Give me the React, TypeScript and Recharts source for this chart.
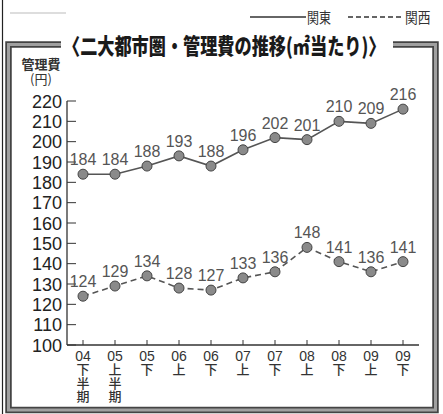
import React from 'react';
import { ComposedChart, Line, XAxis, YAxis, LabelList } from 'recharts';

const categories = ['04下半期', '05上半期', '05下', '06上', '06下', '07上', '07下', '08上', '08下', '09上', '09下'];
const kanto = [184, 184, 188, 193, 188, 196, 202, 201, 210, 209, 216];
const kansai = [124, 129, 134, 128, 127, 133, 136, 148, 141, 136, 141];
const yTicks = [100, 110, 120, 130, 140, 150, 160, 170, 180, 190, 200, 210, 220];

const data = categories.map((c, i) => ({ cat: c, kanto: kanto[i], kansai: kansai[i] }));

const JP = '"Noto Sans CJK JP", "Noto Sans", sans-serif';
const NUM = '"Liberation Sans", Arial, sans-serif';

const XTick = (props: any) => {
  const { x, y, payload } = props;
  const s: string = payload.value;
  const year = s.slice(0, 2);
  const rest = s.slice(2).split('');
  return (
    <g>
      <line x1={x} y1={y - 5} x2={x} y2={y} stroke="#333" strokeWidth={1} />
      <text x={x} y={y + 16} textAnchor="middle" fill="#333">
        <tspan x={x} y={y + 16} fontFamily={NUM} fontSize={14}>{year}</tspan>
        {rest.map((ch, i) => (
          <tspan key={i} x={x} y={y + 29 + i * 13.5} fontFamily={JP} fontSize={13} fontWeight={500}>{ch}</tspan>
        ))}
      </text>
    </g>
  );
};

const YTick = (props: any) => {
  const { x, y, payload } = props;
  return (
    <g>
      <line x1={x} y1={y} x2={x + 9} y2={y} stroke="#333" strokeWidth={1} />
      <text x={x - 5} y={y + 6.5} textAnchor="end" fontFamily={NUM} fontSize={18} fill="#222">{payload.value}</text>
    </g>
  );
};

const PointLabel = (props: any) => {
  const { x, y, value } = props;
  return (
    <text x={x} y={y - 9} textAnchor="middle" fontFamily={NUM} fontSize={16} fill="#555">{value}</text>
  );
};

const Dot = (props: any) => {
  const { cx, cy } = props;
  return <circle cx={cx} cy={cy} r={5} fill="#8a8a8a" stroke="#444" strokeWidth={1} />;
};

export default function App() {
  return (
    <div style={{ position: 'absolute', left: 0, top: 0, width: 443, height: 414, background: '#fff' }}>
      <svg width={443} height={414} style={{ position: 'absolute', left: 0, top: 0 }}>
        <line x1={2.5} y1={0} x2={2.5} y2={414} stroke="#222" strokeWidth={1.2} />
        <line x1={10} y1={13} x2={66} y2={13} stroke="#bbb" strokeWidth={1} />
        <path d="M61 44.5 H8.5 V410 H435.5 V44.5 H393" fill="none" stroke="#444" strokeWidth={6.5} />
        <path d="M61 44.5 H8.5 V410 H435.5 V44.5 H393" fill="none" stroke="#a0a0a0" strokeWidth={3} />
        <g transform="translate(63,54) scale(0.78,1)">
          <text x={0} y={0} fontFamily={JP} fontSize={22} fontWeight={900} fill="#1a1a1a">〈二大都市圏・管理費の推移(㎡当たり)〉</text>
        </g>
        <line x1={250} y1={17} x2={306} y2={17} stroke="#333" strokeWidth={1.3} />
        <g transform="translate(307,22.5) scale(0.8,1)">
          <text x={0} y={0} fontFamily={JP} fontSize={15} fill="#333">関東</text>
        </g>
        <line x1={348} y1={17} x2={404} y2={17} stroke="#333" strokeWidth={1.3} strokeDasharray="5 3" />
        <g transform="translate(405,22.5) scale(0.85,1)">
          <text x={0} y={0} fontFamily={JP} fontSize={15} fill="#333">関西</text>
        </g>
        <text x={41} y={69} textAnchor="middle" fontFamily={JP} fontSize={13} fontWeight={700} fill="#333">管理費</text>
        <text x={41} y={84} textAnchor="middle" fontFamily={JP} fontSize={13} fill="#333">(円)</text>
      </svg>
      <div style={{ position: 'absolute', left: 0, top: 0 }}>
        <ComposedChart width={443} height={414} data={data} margin={{ top: 101, right: 24, bottom: 9, left: 7 }}>
          <XAxis dataKey="cat" interval={0} padding={{ left: 16, right: 16 }} tickLine={false} tickSize={0} tickMargin={0} height={60} axisLine={{ stroke: '#333', strokeWidth: 1.3 }} tick={<XTick />} />
          <YAxis domain={[100, 220]} ticks={yTicks} interval={0} width={60} tickLine={false} tickSize={0} tickMargin={0} axisLine={{ stroke: '#333', strokeWidth: 1.3 }} tick={<YTick />} />
          <Line dataKey="kanto" stroke="#555" strokeWidth={1.6} dot={<Dot />} isAnimationActive={false}>
            <LabelList dataKey="kanto" content={<PointLabel />} />
          </Line>
          <Line dataKey="kansai" stroke="#555" strokeWidth={1.6} strokeDasharray="6 4" dot={<Dot />} isAnimationActive={false}>
            <LabelList dataKey="kansai" content={<PointLabel />} />
          </Line>
        </ComposedChart>
      </div>
    </div>
  );
}
